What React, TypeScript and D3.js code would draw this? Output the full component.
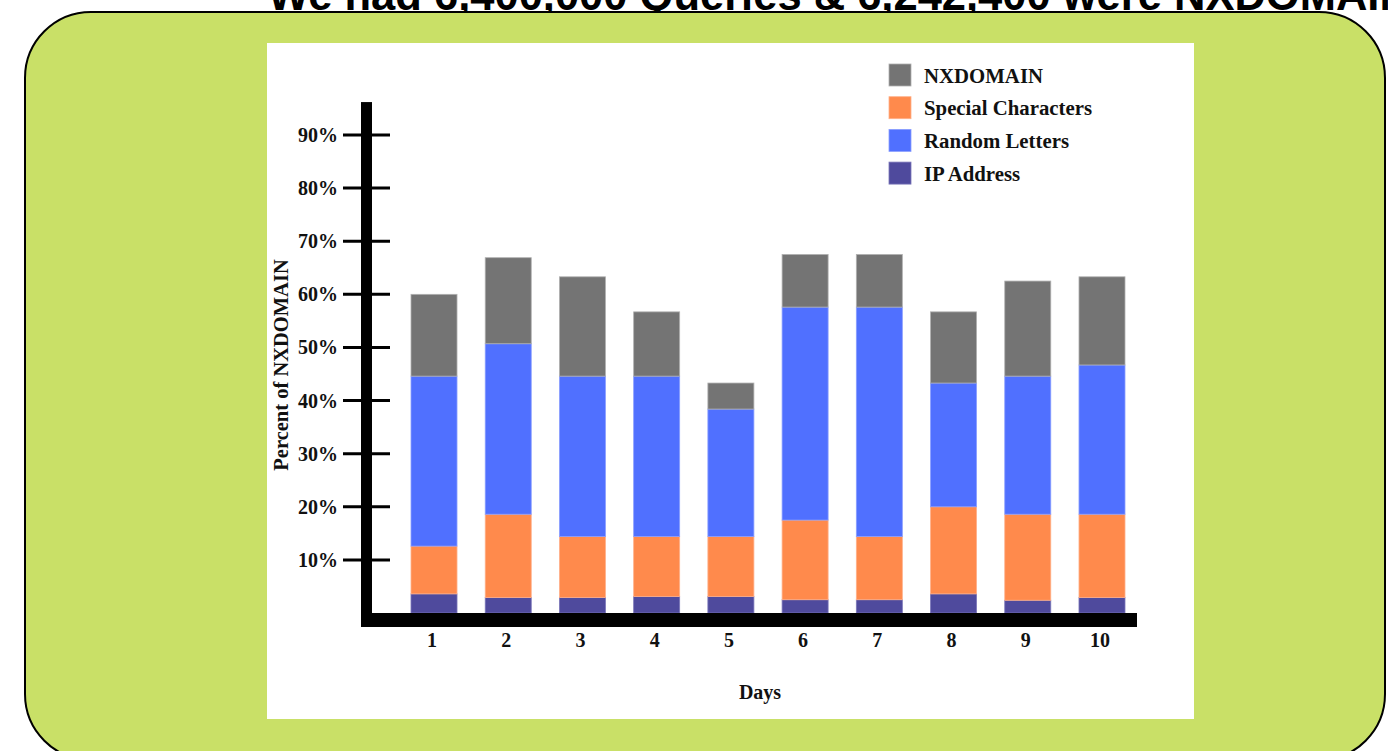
import React from "react";
import * as d3 from "d3";

// ---------- data ----------
const days = ["1", "2", "3", "4", "5", "6", "7", "8", "9", "10"];
const ipAddress = [3.6, 2.9, 2.9, 3.1, 3.1, 2.5, 2.5, 3.6, 2.4, 2.9];
const specialCharacters = [9.0, 15.7, 11.5, 11.3, 11.3, 15.0, 11.9, 16.4, 16.2, 15.7];
const randomLetters = [32.0, 32.1, 30.2, 30.2, 24.0, 40.1, 43.2, 23.3, 26.0, 28.1];
const nxdomain = [15.4, 16.2, 18.7, 12.1, 4.9, 9.9, 9.9, 13.4, 17.9, 16.6];
const yTickValues = [10, 20, 30, 40, 50, 60, 70, 80, 90];
const seriesKeys = ["IP Address", "Special Characters", "Random Letters", "NXDOMAIN"];
const legendOrder = ["NXDOMAIN", "Special Characters", "Random Letters", "IP Address"];
const titleText = "We had 6,400,000 Queries & 6,242,400 were NXDOMAIN";
const yAxisTitle = "Percent of NXDOMAIN";
const xAxisTitle = "Days";

// ---------- styles ----------
const colors: Record<string, string> = {
  "IP Address": "#4f4a9d",
  "Special Characters": "#ff8a4c",
  "Random Letters": "#5070ff",
  NXDOMAIN: "#747474",
};
const strokes: Record<string, string> = {
  "IP Address": "#7a76b8",
  "Special Characters": "#ffb08a",
  "Random Letters": "#8a9eff",
  NXDOMAIN: "#b0b0b0",
};
const serif = "'Liberation Serif', 'Times New Roman', serif";

export default function App() {
  const W = 1388;
  const H = 751;

  const rows = days.map((d, i) => ({
    day: d,
    "IP Address": ipAddress[i],
    "Special Characters": specialCharacters[i],
    "Random Letters": randomLetters[i],
    NXDOMAIN: nxdomain[i],
  }));
  const stacked = d3.stack<any>().keys(seriesKeys)(rows);

  const x = d3.scaleBand<string>().domain(days).range([411, 1125]).paddingInner(0.38).paddingOuter(0);
  const y = d3.scaleLinear().domain([0, 90]).range([613, 135]);

  const axisX = 361;
  const axisW = 11;
  const axisTop = y(96.2);
  const baseY = y(0);
  const xAxisH = 14;
  const xAxisRight = 1137;

  return (
    <svg
      width={W}
      height={H}
      style={{ position: "absolute", left: 0, top: 0, display: "block", overflow: "hidden" }}
    >
      {/* title (cropped at top, as in the reference) */}
      <text
        x={268}
        y={9.5}
        fontFamily="'Liberation Sans', Arial, sans-serif"
        fontWeight="bold"
        fontSize={43.5}
        fill="#000"
      >
        {titleText}
      </text>

      {/* green rounded panel */}
      <rect x={25} y={12} width={1360} height={748} rx={66} ry={66} fill="#c9e067" stroke="#000" strokeWidth={2} />

      {/* white chart panel */}
      <rect x={267} y={43} width={927} height={676} fill="#fff" />

      {/* bars */}
      {stacked.map((s) => (
        <g key={s.key}>
          {s.map((d, i) => (
            <rect
              key={i}
              x={x(days[i])}
              y={y(d[1])}
              width={x.bandwidth()}
              height={y(d[0]) - y(d[1])}
              fill={colors[s.key]}
              stroke={strokes[s.key]}
              strokeWidth={0.8}
            />
          ))}
        </g>
      ))}

      {/* y ticks */}
      {yTickValues.map((v) => (
        <g key={v}>
          <line x1={343} x2={390} y1={y(v)} y2={y(v)} stroke="#000" strokeWidth={3} />
          <text
            x={338}
            y={y(v) + 7}
            textAnchor="end"
            fontFamily={serif}
            fontWeight="bold"
            fontSize={20}
            fill="#111"
          >
            {v}%
          </text>
        </g>
      ))}

      {/* axes */}
      <rect x={axisX} y={axisTop} width={axisW} height={baseY + xAxisH - axisTop} fill="#000" />
      <rect x={axisX} y={baseY} width={xAxisRight - axisX} height={xAxisH} fill="#000" />

      {/* x labels */}
      {days.map((d) => (
        <text
          key={d}
          x={(x(d) as number) + x.bandwidth() / 2 - 2}
          y={647}
          textAnchor="middle"
          fontFamily={serif}
          fontWeight="bold"
          fontSize={20}
          fill="#111"
        >
          {d}
        </text>
      ))}

      {/* axis titles */}
      <text
        transform="translate(288,365) rotate(-90)"
        textAnchor="middle"
        fontFamily={serif}
        fontWeight="bold"
        fontSize={20.5}
        fill="#111"
      >
        {yAxisTitle}
      </text>
      <text x={760} y={699} textAnchor="middle" fontFamily={serif} fontWeight="bold" fontSize={20} fill="#111">
        {xAxisTitle}
      </text>

      {/* legend */}
      {legendOrder.map((k, i) => {
        const cy = 75 + i * 32.7;
        return (
          <g key={k}>
            <rect x={889} y={cy - 11} width={22} height={22} fill={colors[k]} stroke={strokes[k]} strokeWidth={0.8} />
            <text x={924} y={cy + 7.5} fontFamily={serif} fontWeight="bold" fontSize={20.8} fill="#111">
              {k}
            </text>
          </g>
        );
      })}
    </svg>
  );
}
